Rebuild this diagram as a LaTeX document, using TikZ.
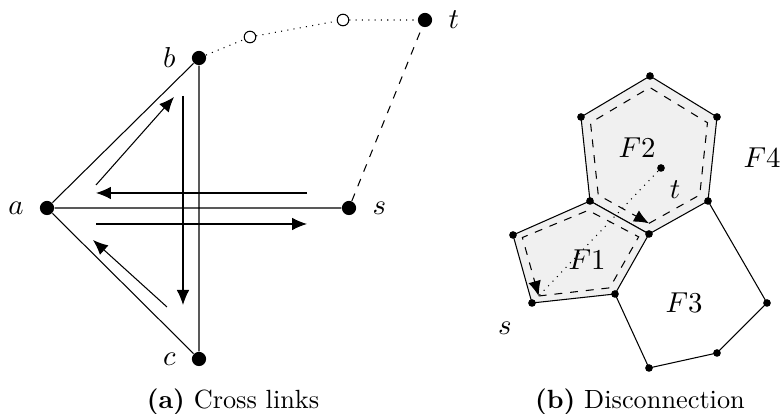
\documentclass[tikz,border=0pt]{standalone}
\usetikzlibrary{arrows.meta,calc}

\begin{document}
\begin{tikzpicture}[x=0.38pt, y=-0.38pt, >={Latex[length=5.7pt,width=4.8pt]},
  bigdot/.style={circle, fill, inner sep=0pt, minimum size=5.4pt},
  opendot/.style={circle, draw, fill=white, inner sep=0pt, minimum size=4.4pt},
  smalldot/.style={circle, fill, inner sep=0pt, minimum size=2.9pt},
  face/.style={draw, fill=gray!12},
  lbl/.style={label distance=2.5pt, font=\fontsize{10.95pt}{13pt}\selectfont},
  flbl/.style={font=\fontsize{10.95pt}{13pt}\selectfont}]
\useasboundingbox (0,0) rectangle (780,414);

\node[bigdot, label={[lbl]left:$a$}] (a) at (47,208) {};
\node[bigdot, label={[lbl]left:$b$}] (b) at (199,58) {};
\node[bigdot, label={[lbl]left:$c$}] (c) at (199,359) {};
\node[bigdot, label={[lbl]right:$s$}] (s) at (349,208) {};
\node[bigdot, label={[lbl]right:$t$}] (t) at (425,20) {};
\node[opendot] (o1) at (250,37) {};
\node[opendot] (o2) at (343,20) {};
\draw (a) -- (b) -- (c) -- (a) -- (s);
\draw[dotted] (b) -- (o1) -- (o2) -- (t);
\draw[dashed] (s) -- (t);
\coordinate (ab1) at (96,185);
\coordinate (ab2) at (174,97);
\coordinate (bc1) at (183,96);
\coordinate (bc2) at (183,305);
\coordinate (sa1) at (307,193);
\coordinate (sa2) at (96,193);
\coordinate (as1) at (96,224);
\coordinate (as2) at (307,224);
\coordinate (ca1) at (167,307);
\coordinate (ca2) at (93,240);
\draw[->] (ab1) -- (ab2);
\draw[->] (bc1) -- (bc2);
\draw[->] (sa1) -- (sa2);
\draw[->] (as1) -- (as2);
\draw[->] (ca1) -- (ca2);
\node (capa) at (233,402) {\textbf{(a)} Cross links};

\coordinate (h1) at (650,76);
\coordinate (h2) at (717,117);
\coordinate (h3) at (708,201);
\coordinate (h4) at (649,234);
\coordinate (h5) at (590,201);
\coordinate (h6) at (581,117);
\coordinate (p1) at (615,294);
\coordinate (p2) at (532,303);
\coordinate (p3) at (513,235);
\coordinate (q1) at (767,303);
\coordinate (q2) at (717,353);
\coordinate (q3) at (649,368);
\coordinate (f2c) at (649,158);
\coordinate (f1c) at (580,253);
\draw[face] (h1) -- (h2) -- (h3) -- (h4) -- (h5) -- (h6) -- cycle;
\draw[face] (h5) -- (h4) -- (p1) -- (p2) -- (p3) -- cycle;
\draw (h3) -- (q1) -- (q2) -- (q3) -- (p1);
\foreach \v in {h1,h2,h3,h4,h5,h6}
  \coordinate (\v i) at ($(\v)!0.14!(f2c)$);
\coordinate (u1) at ($(h5)!0.18!(f1c)$);
\coordinate (u2) at ($(h4)!0.15!(f1c)$);
\coordinate (u3) at ($(p1)!0.15!(f1c)$);
\coordinate (u4) at ($(p2)!0.14!(f1c)$);
\coordinate (u5) at ($(p3)!0.14!(f1c)$);
\draw[dashed, ->] (h4i) -- (h3i) -- (h2i) -- (h1i) -- (h6i) -- (h5i) -- (h4i);
\draw[dashed, ->] (u4) -- (u3) -- (u2) -- (u1) -- (u5) -- (u4);
\node[smalldot] (tb) at (661,168) {};
\draw[dotted] (tb) -- (u4);
\foreach \v in {h1,h2,h3,h4,h5,h6,p1,p2,p3,q1,q2,q3}
  \node[smalldot] at (\v) {};
\node[flbl] (lf1) at (587,260) {$F1$};
\node[flbl] (lf2) at (637,148) {$F2$};
\node[flbl] (lf3) at (684,303) {$F3$};
\node[flbl] (lf4) at (762,158) {$F4$};
\node[flbl] (ls) at (505,328) {$s$};
\node[flbl] (lt) at (675,190) {$t$};
\node (capb) at (640,402) {\textbf{(b)} Disconnection};
\end{tikzpicture}
\end{document}
